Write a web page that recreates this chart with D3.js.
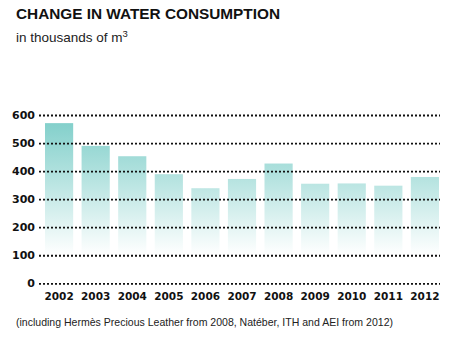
<!DOCTYPE html>
<html>
<head>
<meta charset="utf-8">
<script src="https://cdn.jsdelivr.net/npm/d3@7"></script>
<style>
  body { margin: 0; background: #fff; }
  svg { display: block; font-family: "Liberation Sans", Arial, sans-serif; }
</style>
</head>
<body>
<svg id="chart" width="463" height="340"></svg>
<script>
var years = ["2002", "2003", "2004", "2005", "2006", "2007", "2008", "2009", "2010", "2011", "2012"];
var consumption = [571, 490, 453, 389, 339, 372, 427, 355, 356, 348, 379];
var yTicks = [0, 100, 200, 300, 400, 500, 600];

var margins = { left: 45, right: 24, top: 115, bottom: 57 },
    width = 463,
    height = 340;

var svg = d3.select("#chart");

var xScale = d3.scaleBand()
    .domain(years)
    .range([margins.left, width - margins.right])
    .paddingInner(0.23)
    .paddingOuter(0);

var yScale = d3.scaleLinear()
    .domain([0, 600])
    .range([height - margins.bottom + 0.3, margins.top]);

// teal gradient that fades out towards the bottom of the plot
var grad = svg.append("defs").append("linearGradient")
    .attr("id", "barFade")
    .attr("gradientUnits", "userSpaceOnUse")
    .attr("x1", 0).attr("x2", 0)
    .attr("y1", yScale(600)).attr("y2", yScale(100));
grad.append("stop").attr("offset", "0%").attr("stop-color", "#7ccdc8");
grad.append("stop").attr("offset", "45%").attr("stop-color", "#b5e3e0");
grad.append("stop").attr("offset", "100%").attr("stop-color", "#ffffff");

// bars
svg.append("g")
    .selectAll("rect")
    .data(consumption)
    .enter()
    .append("rect")
    .attr("x", function (d, i) { return xScale(years[i]); })
    .attr("width", xScale.bandwidth())
    .attr("y", function (d) { return yScale(d); })
    .attr("height", function (d) { return yScale(0) - yScale(d); })
    .style("fill", "url(#barFade)");

// dotted gridlines with value labels
var yAxis = d3.axisLeft(yScale)
    .tickValues(yTicks)
    .tickSize(-(width - margins.right + 1 - 39))
    .tickPadding(4);

var yGuide = svg.append("g")
    .attr("transform", "translate(39, 0)")
    .call(yAxis);
yGuide.select(".domain").remove();
yGuide.selectAll(".tick line")
    .attr("stroke", "#111")
    .attr("stroke-width", 1.8)
    .attr("stroke-dasharray", "2,2");
yGuide.selectAll(".tick text")
    .attr("fill", "#111")
    .style("font-family", "'DejaVu Sans', sans-serif")
    .style("font-size", "11px")
    .style("font-weight", "bold");

// year labels
var xAxis = d3.axisBottom(xScale).tickSize(0).tickPadding(9);
var xGuide = svg.append("g")
    .attr("transform", "translate(0," + yScale(0) + ")")
    .call(xAxis);
xGuide.select(".domain").remove();
xGuide.selectAll(".tick text")
    .attr("fill", "#111")
    .style("font-family", "'DejaVu Sans', sans-serif")
    .style("font-size", "10.5px")
    .style("font-weight", "bold");

// titles
svg.append("text")
    .attr("x", 16).attr("y", 19)
    .attr("textLength", 264)
    .attr("lengthAdjust", "spacingAndGlyphs")
    .style("font-size", "15.5px")
    .style("font-weight", "bold")
    .attr("fill", "#111")
    .text("CHANGE IN WATER CONSUMPTION");

var sub = svg.append("text")
    .attr("x", 16).attr("y", 42)
    .style("font-size", "13.5px")
    .attr("fill", "#222");
sub.append("tspan").text("in thousands of m");
sub.append("tspan").attr("dy", -5).style("font-size", "9.5px").text("3");

svg.append("text")
    .attr("x", 16).attr("y", 326)
    .attr("textLength", 377)
    .attr("lengthAdjust", "spacingAndGlyphs")
    .style("font-size", "10.5px")
    .attr("fill", "#222")
    .text("(including Hermès Precious Leather from 2008, Natéber, ITH and AEI from 2012)");
</script>
</body>
</html>
